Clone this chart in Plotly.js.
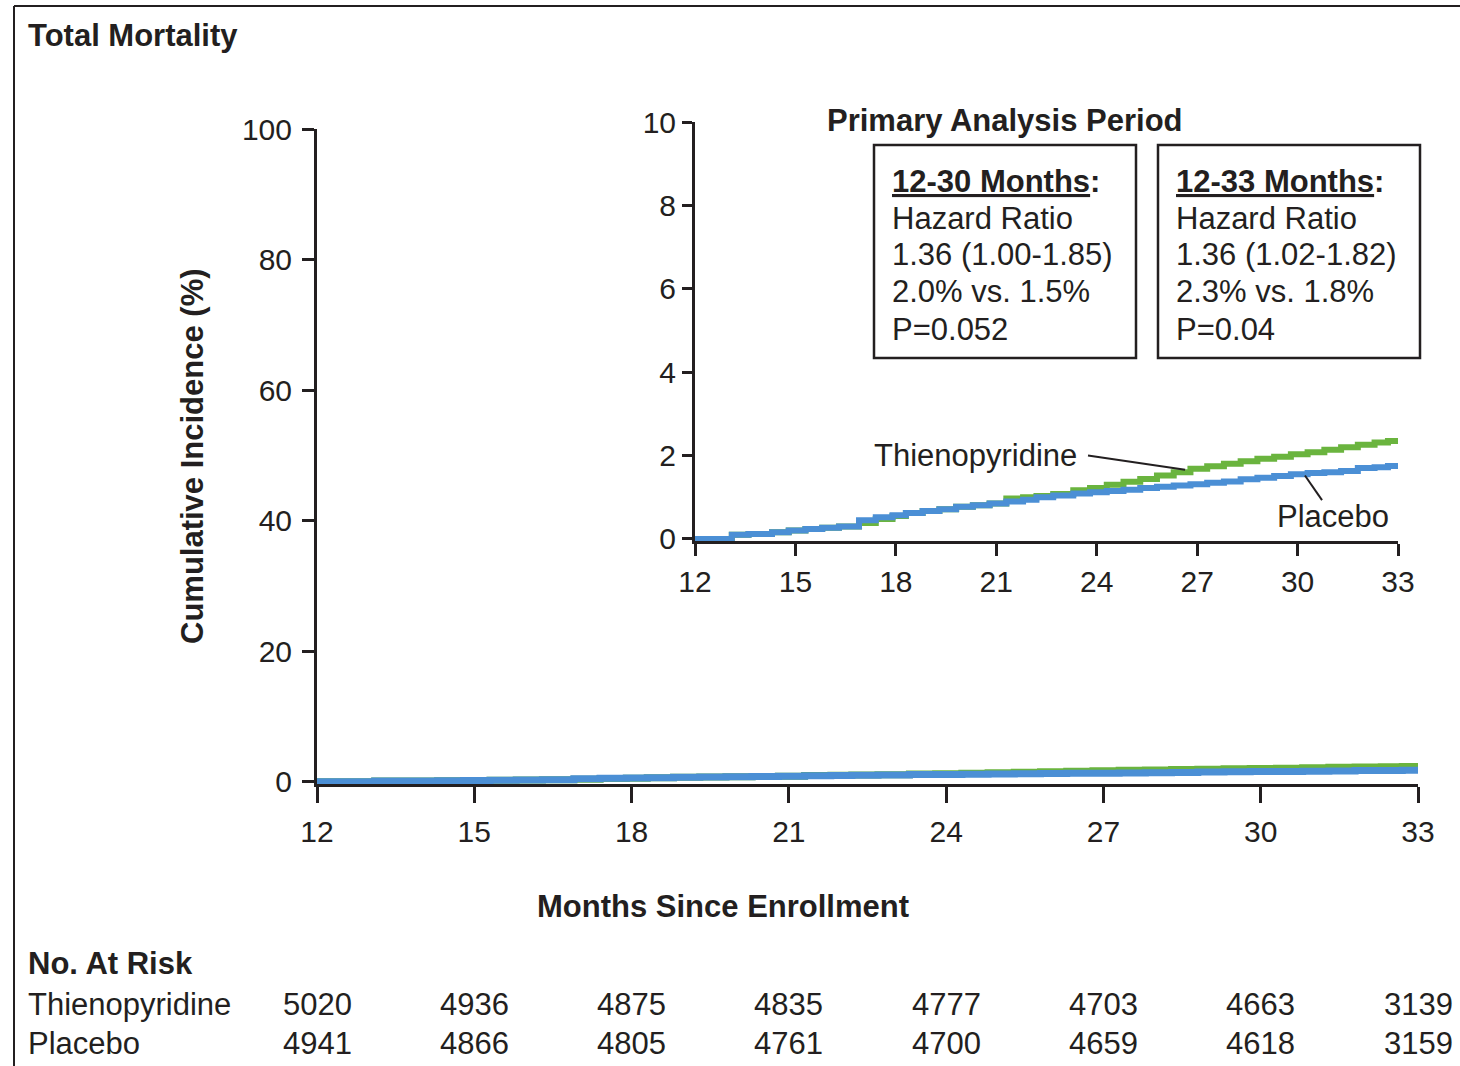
<!DOCTYPE html>
<html>
<head>
<meta charset="utf-8">
<script src="https://cdn.plot.ly/plotly-3.0.1.min.js"></script>
<style>html,body{margin:0;padding:0;background:#fff;}#chart{width:1460px;height:1066px;}</style>
</head>
<body>
<div id="chart"></div>
<script>
// ---- data ----
const tickMonths = [12, 15, 18, 21, 24, 27, 30, 33];
const mainYTicks = [0, 20, 40, 60, 80, 100];
const insetYTicks = [0, 2, 4, 6, 8, 10];

const stepMonths = [12, 13.1, 13.6, 14.3, 14.8, 15.3, 15.8, 16.3, 16.9, 17.4, 17.9, 18.3, 18.8, 19.3, 19.8, 20.3, 20.8, 21.3, 21.8, 22.2, 22.7, 23.3, 23.8, 24.3, 24.8, 25.3, 25.8, 26.3, 26.8, 27.3, 27.8, 28.3, 28.8, 29.3, 29.8, 30.3, 30.8, 31.3, 31.8, 32.3, 32.7, 33.05];
const thienoIncidence = [0, 0.1, 0.12, 0.16, 0.2, 0.24, 0.27, 0.3, 0.38, 0.48, 0.55, 0.62, 0.67, 0.71, 0.77, 0.81, 0.85, 0.97, 1.0, 1.03, 1.08, 1.17, 1.22, 1.3, 1.37, 1.44, 1.52, 1.6, 1.68, 1.74, 1.8, 1.86, 1.92, 1.97, 2.03, 2.08, 2.14, 2.2, 2.26, 2.31, 2.35, 2.36];
const placeboIncidence = [0, 0.1, 0.12, 0.16, 0.2, 0.24, 0.27, 0.3, 0.45, 0.52, 0.57, 0.62, 0.67, 0.71, 0.77, 0.81, 0.85, 0.9, 0.94, 1.0, 1.04, 1.09, 1.12, 1.15, 1.18, 1.22, 1.25, 1.28, 1.31, 1.35, 1.38, 1.43, 1.47, 1.51, 1.55, 1.58, 1.6, 1.63, 1.7, 1.72, 1.75, 1.82];

const riskThieno = [5020, 4936, 4875, 4835, 4777, 4703, 4663, 3139];
const riskPlacebo = [4941, 4866, 4805, 4761, 4700, 4659, 4618, 3159];

const box1Lines = ['<b><u>12-30 Months</u>:</b>', 'Hazard Ratio', '1.36 (1.00-1.85)', '2.0% vs. 1.5%', 'P=0.052'];
const box2Lines = ['<b><u>12-33 Months</u>:</b>', 'Hazard Ratio', '1.36 (1.02-1.82)', '2.3% vs. 1.8%', 'P=0.04'];

// ---- styling ----
const W = 1460, H = 1066;
const ink = '#231f20';
const green = '#6ab43e';
const blue = '#4b8fd5';
const FONT = 'Liberation Sans, Arial, Helvetica, sans-serif';
const px = v => v / W;
const py = v => (H - v) / H;

const traces = [
  {x: stepMonths, y: thienoIncidence, xaxis: 'x', yaxis: 'y', mode: 'lines', line: {shape: 'hv', color: green, width: 7}, name: 'Thienopyridine'},
  {x: stepMonths, y: placeboIncidence, xaxis: 'x', yaxis: 'y', mode: 'lines', line: {shape: 'hv', color: blue, width: 7}, name: 'Placebo'},
  {x: stepMonths, y: thienoIncidence, xaxis: 'x2', yaxis: 'y2', mode: 'lines', line: {shape: 'hv', color: green, width: 6}, name: 'Thienopyridine'},
  {x: stepMonths, y: placeboIncidence, xaxis: 'x2', yaxis: 'y2', mode: 'lines', line: {shape: 'hv', color: blue, width: 6}, name: 'Placebo'}
];

const axisCommon = {
  showgrid: false, zeroline: false, showline: true, linecolor: ink, linewidth: 3,
  ticks: 'outside', tickcolor: ink, tickwidth: 3, layer: 'below traces',
  tickfont: {family: FONT, size: 30, color: ink}, fixedrange: true
};

const annotations = [];
function addText(text, x, y, opts) {
  annotations.push(Object.assign({
    text: text, xref: 'paper', yref: 'paper', x: px(x), y: py(y),
    xanchor: 'left', yanchor: 'middle', showarrow: false,
    font: {family: FONT, size: 31, color: ink}
  }, opts || {}));
}

addText('<b>Total Mortality</b>', 26, 35);
addText('<b>Cumulative Incidence (%)</b>', 193, 456, {xanchor: 'center', textangle: -90});
addText('<b>Months Since Enrollment</b>', 723, 906, {xanchor: 'center'});
addText('<b>Primary Analysis Period</b>', 1005, 121, {xanchor: 'center'});

const lineYs = [181, 218, 255, 292, 329];
box1Lines.forEach((t, i) => addText(t, 890, lineYs[i]));
box2Lines.forEach((t, i) => addText(t, 1174, lineYs[i]));

addText('Thienopyridine', 975, 455, {xanchor: 'center'});
addText('Placebo', 1333, 516, {xanchor: 'center'});

addText('<b>No. At Risk</b>', 26, 963);
addText('Thienopyridine', 26, 1004);
addText('Placebo', 26, 1043);
tickMonths.forEach((m, i) => {
  annotations.push({text: String(riskThieno[i]), xref: 'x', yref: 'paper', x: m, y: py(1004), xanchor: 'center', yanchor: 'middle', showarrow: false, font: {family: FONT, size: 31, color: ink}});
  annotations.push({text: String(riskPlacebo[i]), xref: 'x', yref: 'paper', x: m, y: py(1043), xanchor: 'center', yanchor: 'middle', showarrow: false, font: {family: FONT, size: 31, color: ink}});
});

const shapes = [
  {type: 'line', xref: 'paper', yref: 'paper', x0: px(14), x1: px(1460), y0: py(6), y1: py(6), line: {color: ink, width: 2}},
  {type: 'line', xref: 'paper', yref: 'paper', x0: px(14), x1: px(14), y0: py(6), y1: py(1066), line: {color: ink, width: 2}},
  {type: 'rect', xref: 'paper', yref: 'paper', x0: px(874), x1: px(1136), y0: py(145), y1: py(358), line: {color: ink, width: 2.5}},
  {type: 'rect', xref: 'paper', yref: 'paper', x0: px(1158), x1: px(1420), y0: py(145), y1: py(358), line: {color: ink, width: 2.5}},
  {type: 'line', xref: 'x2', yref: 'y2', x0: 23.74, y0: 2.0, x1: 26.64, y1: 1.66, line: {color: ink, width: 2}},
  {type: 'line', xref: 'x2', yref: 'y2', x0: 30.73, y0: 0.93, x1: 30.22, y1: 1.52, line: {color: ink, width: 2}}
];

const layout = {
  width: W, height: H,
  margin: {l: 0, r: 0, t: 0, b: 0},
  paper_bgcolor: '#ffffff', plot_bgcolor: 'rgba(0,0,0,0)',
  showlegend: false,
  font: {family: FONT, color: ink},
  xaxis: Object.assign({}, axisCommon, {domain: [px(317), px(1418)], range: [12, 33], tickvals: tickMonths, ticklen: 16, anchor: 'y', ticklabelstandoff: 3}),
  yaxis: Object.assign({}, axisCommon, {domain: [py(784), py(129)], range: [-0.35, 100], tickvals: mainYTicks, ticklen: 12, anchor: 'x', ticklabelstandoff: 4}),
  xaxis2: Object.assign({}, axisCommon, {domain: [px(695), px(1398)], range: [12, 33], tickvals: tickMonths, ticklen: 12, anchor: 'y2', ticklabelstandoff: 0}),
  yaxis2: Object.assign({}, axisCommon, {domain: [py(541), py(122)], range: [-0.05, 10], tickvals: insetYTicks, ticklen: 10, anchor: 'x2', ticklabelstandoff: 0}),
  annotations: annotations,
  shapes: shapes
};

Plotly.newPlot('chart', traces, layout, {displayModeBar: false, staticPlot: true});
</script>
</body>
</html>
